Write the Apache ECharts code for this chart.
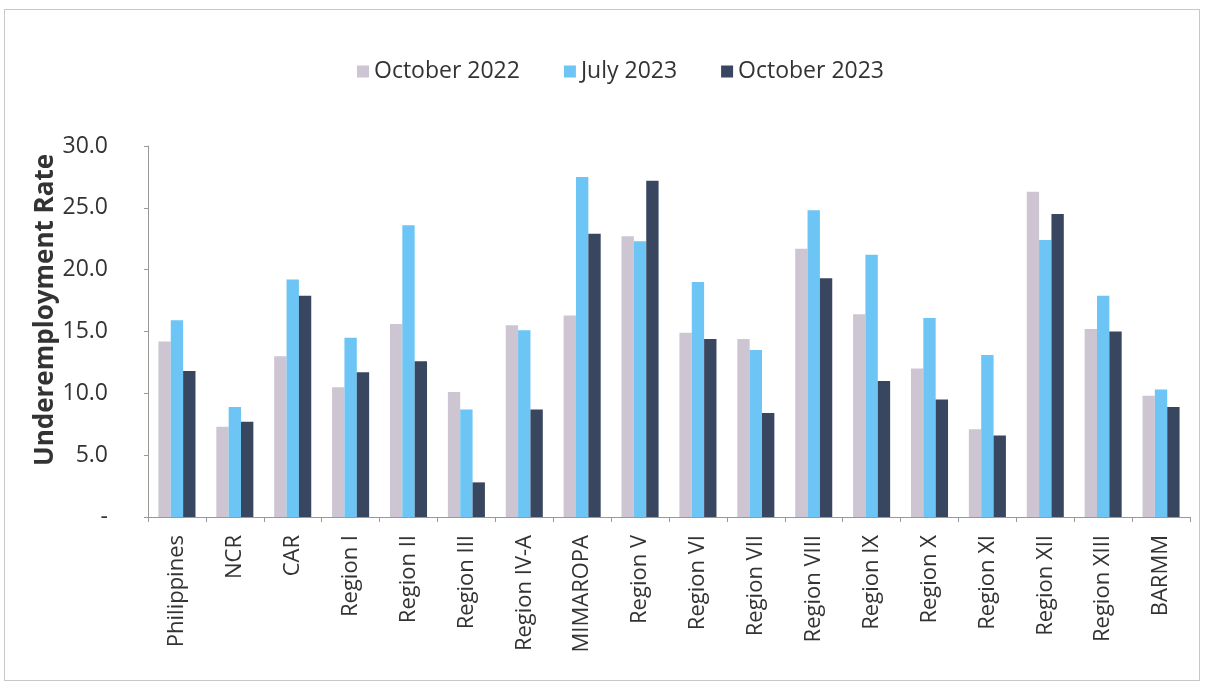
<!DOCTYPE html>
<html>
<head>
<meta charset="utf-8">
<script src="https://cdn.jsdelivr.net/npm/echarts@6/dist/echarts.min.js"></script>
<style>
html,body{margin:0;padding:0;background:#fff;}
#frame{position:absolute;left:4px;top:9px;width:1196px;height:672px;border:1px solid #c8c8cc;box-sizing:border-box;}
#chart{position:absolute;left:0;top:0;width:1207px;height:682px;}
</style>
</head>
<body>
<div id="frame"></div>
<div id="chart"></div>
<script>
const categories = ["Philippines","NCR","CAR","Region I","Region II","Region III","Region IV-A","MIMAROPA","Region V","Region VI","Region VII","Region VIII","Region IX","Region X","Region XI","Region XII","Region XIII","BARMM"];
const oct2022 = [14.2, 7.3, 13.0, 10.5, 15.6, 10.1, 15.5, 16.3, 22.7, 14.9, 14.4, 21.7, 16.4, 12.0, 7.1, 26.3, 15.2, 9.8];
const jul2023 = [15.9, 8.9, 19.2, 14.5, 23.6, 8.7, 15.1, 27.5, 22.3, 19.0, 13.5, 24.8, 21.2, 16.1, 13.1, 22.4, 17.9, 10.3];
const oct2023 = [11.8, 7.7, 17.9, 11.7, 12.6, 2.8, 8.7, 22.9, 27.2, 14.4, 8.4, 19.3, 11.0, 9.5, 6.6, 24.5, 15.0, 8.9];
const seriesNames = ["October 2022","July 2023","October 2023"];
const yAxisTitle = "Underemployment Rate";
const colors = ["#cdc5d2","#6cc5f4","#394660"];

const chart = echarts.init(document.getElementById('chart'));
const data = [oct2022, jul2023, oct2023];
chart.setOption({
  animation:false,
  textStyle:{fontFamily:"Open Sans, Liberation Sans, sans-serif"},
  legend:{
    top:55, left:352, itemWidth:12, itemHeight:12, itemGap:44,
    icon:'rect',
    textStyle:{fontSize:23,color:'#333', fontFamily:"Open Sans, sans-serif"},
    data:seriesNames
  },
  graphic:[{
    type:'text',
    x:33, y:466,
    rotation:Math.PI/2,
    style:{text:yAxisTitle, fontSize:26, fontWeight:'bold', fill:'#333', fontFamily:"Open Sans, sans-serif"}
  }],
  grid:{left:148,right:17,top:146,bottom:165,containLabel:false},
  xAxis:{
    type:'category', data:categories,
    axisLine:{lineStyle:{color:'#999'}},
    axisTick:{show:true,length:5,lineStyle:{color:'#999'}},
    axisLabel:{rotate:90,fontSize:22,color:'#333',margin:18,interval:0}
  },
  yAxis:{
    type:'value', min:0, max:30, interval:5,
    axisLine:{show:true,lineStyle:{color:'#999'}},
    axisTick:{show:true,length:4,lineStyle:{color:'#999'}},
    splitLine:{show:false},
    axisLabel:{fontSize:23,color:'#333',margin:40,
      formatter:function(v){return v===0?'-':v.toFixed(1);}}
  },
  series:seriesNames.map((n,i)=>({
    name:n, type:'bar', data:data[i], barGap:'0%', barCategoryGap:'36%',
    itemStyle:{color:colors[i]}
  }))
});
</script>
</body>
</html>
